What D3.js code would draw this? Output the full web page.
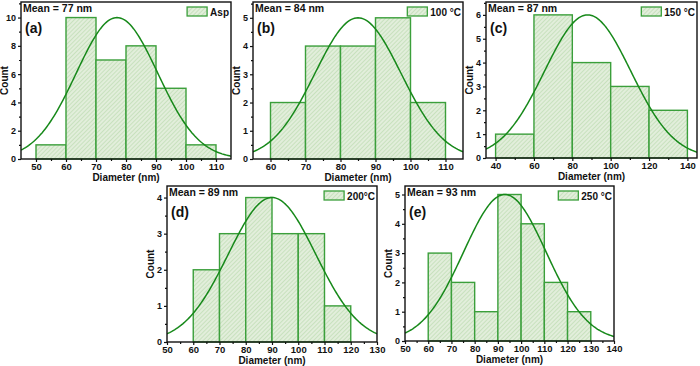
<!DOCTYPE html>
<html>
<head>
<meta charset="utf-8">
<script src="https://cdn.jsdelivr.net/npm/d3@7"></script>
<style>
  body { margin: 0; background: #fff; }
  svg text { font-family: "Liberation Sans", Arial, sans-serif; font-weight: bold; fill: #111; }
</style>
</head>
<body>
<svg id="chart" width="700" height="366"></svg>
<script>
// ---- data ----
var panelTags   = ["(a)", "(b)", "(c)", "(d)", "(e)"];
var legendNames = ["Asp", "100 \u00B0C", "150 \u00B0C", "200\u00B0C", "250 \u00B0C"];
var meanTexts   = ["Mean = 77 nm", "Mean = 84 nm", "Mean = 87 nm", "Mean = 89 nm", "Mean = 93 nm"];

var binEdges = [
  [50, 60, 70, 80, 90, 100, 110],
  [60, 70, 80, 90, 100, 110],
  [40, 60, 80, 100, 120, 140],
  [60, 70, 80, 90, 100, 110, 120],
  [60, 70, 80, 90, 100, 110, 120, 130]
];
var counts = [
  [1, 10, 7, 8, 5, 1],
  [2, 4, 4, 5, 2],
  [1, 6, 4, 3, 2],
  [2, 3, 4, 3, 3, 1],
  [3, 2, 1, 5, 4, 2, 1]
];

// normal fit parameters (centre, width, height)
var fitMean  = [77, 85, 88, 90, 93];
var fitSigma = [13.6, 12.3, 22.5, 16.7, 17.8];
var fitPeak  = [10, 5, 6, 4, 5];

var xDomains = [[45, 115], [55, 115], [35, 145], [50, 130], [50, 140]];
var xTicks = [
  [50, 60, 70, 80, 90, 100, 110],
  [60, 70, 80, 90, 100, 110],
  [40, 60, 80, 100, 120, 140],
  [50, 60, 70, 80, 90, 100, 110, 120, 130],
  [50, 60, 70, 80, 90, 100, 110, 120, 130, 140]
];
var yTicks = [
  [0, 2, 4, 6, 8, 10],
  [0, 1, 2, 3, 4, 5],
  [0, 1, 2, 3, 4, 5, 6],
  [0, 1, 2, 3, 4],
  [0, 1, 2, 3, 4, 5]
];
var yTops = [11.1, 5.56, 6.54, 4.32, 5.29];

// ---- layout ----
var boxes = [
  {l: 21,  r: 231, t: 2,   b: 159},
  {l: 253, r: 463, t: 2,   b: 159},
  {l: 486, r: 697, t: 2,   b: 158},
  {l: 167, r: 377, t: 186, b: 342},
  {l: 405, r: 614, t: 186, b: 341}
];

var barStroke = "#3b9f3b",
    curveColor = "#17891a";

var svg = d3.select("#chart");

// hatched light green fill
var defs = svg.append("defs");
var pat = defs.append("pattern")
    .attr("id", "hatch")
    .attr("patternUnits", "userSpaceOnUse")
    .attr("width", 3).attr("height", 3)
    .attr("patternTransform", "rotate(45)");
pat.append("rect").attr("width", 3).attr("height", 3).attr("fill", "#e2eedb");
pat.append("line").attr("x1", 0).attr("y1", 0).attr("x2", 0).attr("y2", 3)
    .attr("stroke", "#b7d8aa").attr("stroke-width", 1.2);

boxes.forEach(function(box, i) {
  var x = d3.scaleLinear().domain(xDomains[i]).range([box.l, box.r]),
      y = d3.scaleLinear().domain([0, yTops[i]]).range([box.b, box.t]);

  var g = svg.append("g");

  defs.append("clipPath").attr("id", "clip" + i)
    .append("rect").attr("x", box.l).attr("y", box.t)
    .attr("width", box.r - box.l).attr("height", box.b - box.t);

  // bars
  var bins = counts[i].map(function(c, k) {
    return {x0: binEdges[i][k], x1: binEdges[i][k + 1], n: c};
  });
  g.selectAll(".bar")
    .data(bins)
    .enter().append("rect")
      .attr("class", "bar")
      .attr("x", d => x(d.x0))
      .attr("y", d => y(d.n))
      .attr("width", d => x(d.x1) - x(d.x0))
      .attr("height", d => y(0) - y(d.n))
      .attr("fill", "url(#hatch)")
      .attr("stroke", barStroke)
      .attr("stroke-width", 1.4);

  // normal fit curve
  var xs = d3.range(xDomains[i][0], xDomains[i][1] + 0.01, 0.5);
  var line = d3.line()
    .x(v => x(v))
    .y(v => y(fitPeak[i] * Math.exp(-Math.pow(v - fitMean[i], 2) / (2 * fitSigma[i] * fitSigma[i]))));
  g.append("path")
    .datum(xs)
    .attr("clip-path", "url(#clip" + i + ")")
    .attr("d", line)
    .attr("fill", "none")
    .attr("stroke", curveColor)
    .attr("stroke-width", 1.5);

  // axes
  var xStep = xTicks[i][1] - xTicks[i][0],
      yStep = yTicks[i][1] - yTicks[i][0];
  var xMinor = xTicks[i].map(v => v - xStep / 2).concat([xTicks[i][xTicks[i].length - 1] + xStep / 2])
      .filter(v => v > xDomains[i][0] && v < xDomains[i][1]);
  var yMinor = yTicks[i].map(v => v + yStep / 2).filter(v => v < yTops[i]);

  g.append("g")
    .attr("transform", "translate(0," + box.b + ")")
    .call(d3.axisBottom(x).tickValues(xMinor).tickSize(2).tickFormat(""))
    .call(a => a.select(".domain").remove());
  var xa = g.append("g")
    .attr("transform", "translate(0," + box.b + ")")
    .call(d3.axisBottom(x).tickValues(xTicks[i]).tickSize(3).tickPadding(1).tickFormat(d3.format("d")));
  xa.select(".domain").remove();
  xa.selectAll("text").style("font-size", "9.5px").style("font-family", "Liberation Sans, Arial").style("font-weight", "bold");

  g.append("g")
    .attr("transform", "translate(" + box.l + ",0)")
    .call(d3.axisLeft(y).tickValues(yMinor).tickSize(2).tickFormat(""))
    .call(a => a.select(".domain").remove());
  var ya = g.append("g")
    .attr("transform", "translate(" + box.l + ",0)")
    .call(d3.axisLeft(y).tickValues(yTicks[i]).tickSize(3).tickPadding(2).tickFormat(d3.format("d")));
  ya.select(".domain").remove();
  ya.selectAll("text").style("font-size", "9px").style("font-family", "Liberation Sans, Arial").style("font-weight", "bold");
  g.selectAll(".tick line").attr("stroke", "#111").attr("stroke-width", 1.2);

  // frame
  g.append("rect")
    .attr("x", box.l).attr("y", box.t)
    .attr("width", box.r - box.l).attr("height", box.b - box.t)
    .attr("fill", "none").attr("stroke", "#111").attr("stroke-width", 1.4);

  // axis titles
  g.append("text")
    .attr("x", (box.l + box.r) / 2).attr("y", box.b + 21.5)
    .attr("text-anchor", "middle").style("font-size", "10px")
    .text("Diameter (nm)");
  g.append("text")
    .attr("transform", "translate(" + (box.l - 13) + "," + ((box.t + box.b) / 2) + ") rotate(-90)")
    .attr("text-anchor", "middle").style("font-size", "10px")
    .text("Count");

  // mean text and panel tag
  g.append("text")
    .attr("x", box.l + 2).attr("y", box.t + 10)
    .style("font-size", "10.5px")
    .text(meanTexts[i]);
  g.append("text")
    .attr("x", box.l + 4).attr("y", box.t + 31)
    .style("font-size", "14px")
    .text(panelTags[i]);

  // legend: text at the right, swatch just before it
  var lt = g.append("text")
    .attr("x", box.r - 2).attr("y", box.t + 13.5)
    .attr("text-anchor", "end")
    .style("font-size", "10px")
    .text(legendNames[i]);
  var tw = lt.node().getComputedTextLength();
  g.append("rect")
    .attr("x", box.r - 2 - tw - 23).attr("y", box.t + 5)
    .attr("width", 20).attr("height", 9)
    .attr("fill", "url(#hatch)").attr("stroke", barStroke).attr("stroke-width", 1.3);
});
</script>
</body>
</html>
